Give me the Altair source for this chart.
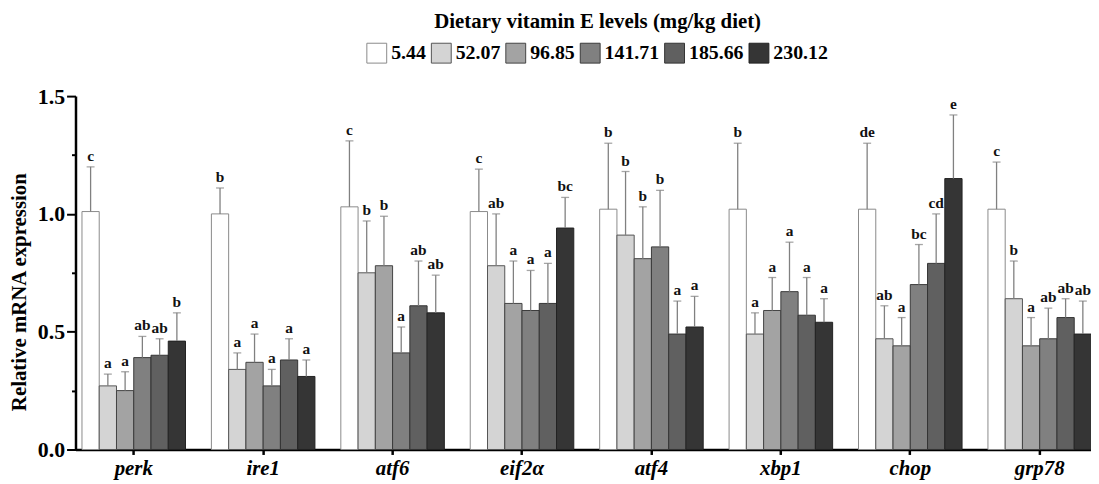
import altair as alt
import pandas as pd

genes = ["perk", "ire1", "atf6", "eif2α", "atf4", "xbp1", "chop", "grp78"]
levels = ["5.44", "52.07", "96.85", "141.71", "185.66", "230.12"]

# mean values per gene (one per vitamin E level)
perk_mean = [1.01, 0.27, 0.25, 0.39, 0.40, 0.46]
ire1_mean = [1.00, 0.34, 0.37, 0.27, 0.38, 0.31]
atf6_mean = [1.03, 0.75, 0.78, 0.41, 0.61, 0.58]
eif2a_mean = [1.01, 0.78, 0.62, 0.59, 0.62, 0.94]
atf4_mean = [1.02, 0.91, 0.81, 0.86, 0.49, 0.52]
xbp1_mean = [1.02, 0.49, 0.59, 0.67, 0.57, 0.54]
chop_mean = [1.02, 0.47, 0.44, 0.70, 0.79, 1.15]
grp78_mean = [1.02, 0.64, 0.44, 0.47, 0.56, 0.49]

# upper end of the error bar (mean + SD)
perk_upper = [1.20, 0.32, 0.33, 0.48, 0.47, 0.58]
ire1_upper = [1.11, 0.41, 0.49, 0.34, 0.47, 0.38]
atf6_upper = [1.31, 0.97, 0.99, 0.52, 0.80, 0.74]
eif2a_upper = [1.19, 1.00, 0.80, 0.76, 0.79, 1.07]
atf4_upper = [1.30, 1.18, 1.03, 1.10, 0.63, 0.65]
xbp1_upper = [1.30, 0.58, 0.73, 0.88, 0.73, 0.64]
chop_upper = [1.30, 0.61, 0.56, 0.87, 1.00, 1.42]
grp78_upper = [1.22, 0.80, 0.56, 0.60, 0.64, 0.63]

# significance letters
perk_letters = ["c", "a", "a", "ab", "ab", "b"]
ire1_letters = ["b", "a", "a", "a", "a", "a"]
atf6_letters = ["c", "b", "b", "a", "ab", "ab"]
eif2a_letters = ["c", "ab", "a", "a", "a", "bc"]
atf4_letters = ["b", "b", "b", "b", "a", "a"]
xbp1_letters = ["b", "a", "a", "a", "a", "a"]
chop_letters = ["de", "ab", "a", "bc", "cd", "e"]
grp78_letters = ["c", "b", "a", "ab", "ab", "ab"]

fills = ["#ffffff", "#d4d4d4", "#a3a3a3", "#808080", "#606060", "#353535"]
strokes = ["#8a8a8a", "#555555", "#444444", "#3a3a3a", "#333333", "#222222"]

means = [perk_mean, ire1_mean, atf6_mean, eif2a_mean, atf4_mean, xbp1_mean, chop_mean, grp78_mean]
uppers = [perk_upper, ire1_upper, atf6_upper, eif2a_upper, atf4_upper, xbp1_upper, chop_upper, grp78_upper]
letters = [perk_letters, ire1_letters, atf6_letters, eif2a_letters, atf4_letters, xbp1_letters, chop_letters, grp78_letters]

rows = []
for g, m, u, l in zip(genes, means, uppers, letters):
    for lev, mv, uv, lt in zip(levels, m, u, l):
        rows.append({"gene": g, "level": lev, "mean": mv, "upper": uv, "letter": lt})
df = pd.DataFrame(rows)

FONT = "Liberation Serif"

x_enc = alt.X(
    "gene:N", sort=genes, title=None,
    scale=alt.Scale(paddingInner=0.2, paddingOuter=0.05),
    axis=alt.Axis(
        labelAngle=0, labelFont=FONT, labelFontSize=21, labelFontStyle="italic",
        labelFontWeight="bold", labelColor="black", labelPadding=3,
        tickSize=5, tickWidth=2.5, tickColor="black",
        domainWidth=2.5, domainColor="black",
    ),
)
xoff_enc = alt.XOffset("level:N", sort=levels, scale=alt.Scale(paddingInner=0, paddingOuter=0))

y_scale = alt.Scale(domain=[0, 1.5], nice=False)

base = alt.Chart(df).encode(x=x_enc, xOffset=xoff_enc)

bars = base.mark_bar(strokeWidth=1).encode(
    y=alt.Y(
        "mean:Q", scale=y_scale, title="Relative mRNA expression",
        axis=alt.Axis(
            values=[0, 0.25, 0.5, 0.75, 1.0, 1.25, 1.5],
            labelExpr="datum.value % 0.5 == 0 ? format(datum.value, '.1f') : ''",
            tickSize={"condition": {"test": "datum.value % 0.5 != 0", "value": 4}, "value": 9},
            tickWidth=2, tickColor="black", domainWidth=2.5, domainColor="black",
            grid=False, labelFont=FONT, labelFontSize=22, labelFontWeight="bold",
            labelColor="black", labelPadding=2,
            titleFont=FONT, titleFontSize=21, titleFontWeight="bold", titleColor="black",
            titleAngle=270, titleX=-56, titleY=197, titleAlign="center", titleBaseline="middle",
        ),
    ),
    fill=alt.Fill(
        "level:N", sort=levels, scale=alt.Scale(domain=levels, range=fills),
        legend=alt.Legend(
            title="Dietary vitamin E levels (mg/kg diet)", titleFont=FONT, titleFontSize=21,
            titleFontWeight="bold", titleColor="black", titleAnchor="middle",
            titleOrient="top", titleLimit=700, titlePadding=11,
            orient="none", legendX=293, legendY=-86, direction="horizontal",
            columns=6, symbolType="square", symbolSize=400, symbolStrokeColor="#222222",
            symbolStrokeWidth=1, symbolOpacity=1, labelFont=FONT, labelFontSize=20,
            labelFontWeight="bold", labelColor="black", labelOffset=4, columnPadding=3,
            padding=0,
        ),
    ),
    stroke=alt.Stroke("level:N", sort=levels, scale=alt.Scale(domain=levels, range=strokes), legend=None),
)

err = base.mark_rule(color="#808080", strokeWidth=1.3).encode(
    y=alt.Y("mean:Q", scale=y_scale), y2="upper:Q"
)
caps = base.mark_tick(color="#808080", thickness=1.3, size=8, orient="horizontal").encode(
    y=alt.Y("upper:Q", scale=y_scale)
)
texts = base.mark_text(font=FONT, fontSize=15.5, fontWeight="bold", color="#111111",
                       baseline="bottom", dy=-3).encode(
    y=alt.Y("upper:Q", scale=y_scale), text="letter:N"
)

chart = alt.layer(bars, err, caps, texts).properties(
    width=1030, height=356,
    autosize=alt.AutoSizeParams(type="none"),
    padding={"left": 68, "top": 87, "right": -7, "bottom": 33},
).configure(background="white").configure_view(stroke=None)

chart.save("out.html", embed_options={"renderer": "svg", "actions": False})
